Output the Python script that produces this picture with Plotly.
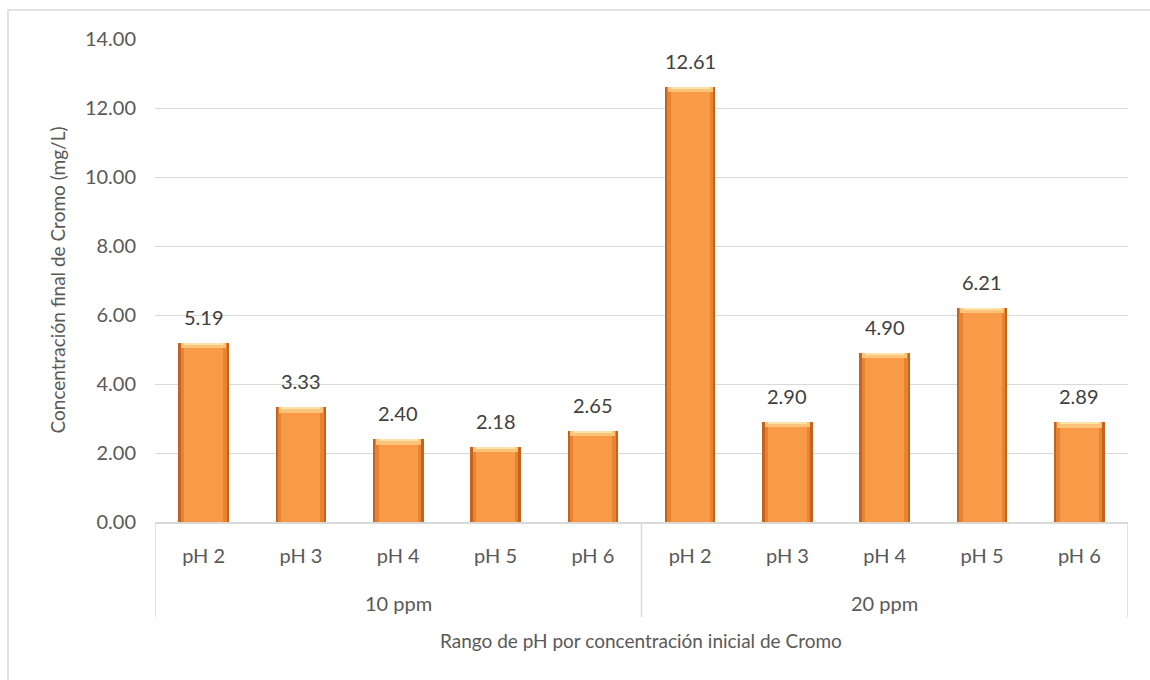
import plotly.graph_objects as go

# Data: final chromium concentration by pH, for each initial concentration
groups = ["10 ppm", "20 ppm"]
ph_labels = ["pH 2", "pH 3", "pH 4", "pH 5", "pH 6"]
conc_10ppm = [5.19, 3.33, 2.40, 2.18, 2.65]
conc_20ppm = [12.61, 2.90, 4.90, 6.21, 2.89]

values = conc_10ppm + conc_20ppm
tick_text = ph_labels * len(groups)
x_pos = list(range(len(values)))

FONT = "Lato"
TICK_COLOR = "#595959"
GRID = "#D9D9D9"

W, H = 1150, 680
L, R, T, B = 155, 22, 39, 158
plot_w = W - L - R
plot_h = H - T - B


def px_x(px):
    return (px - L) / plot_w


def px_y(py):
    return (H - B - py) / plot_h


fig = go.Figure()

# bevelled-looking bars: dark outer body, lighter inner face, pale top cap
fig.add_trace(go.Bar(x=x_pos, y=values, width=0.52,
                     marker=dict(color="#C4631F", line=dict(width=0)),
                     hoverinfo="skip", showlegend=False))
fig.add_trace(go.Bar(x=x_pos, y=values, width=0.47,
                     marker=dict(color="#E8842F", line=dict(width=0)),
                     hoverinfo="skip", showlegend=False))
fig.add_trace(go.Bar(x=x_pos, y=values, width=0.40,
                     marker=dict(color="#F99A48", line=dict(width=0)),
                     hovertemplate="%{y:.2f}<extra></extra>", showlegend=False))
cap_h = 0.16
fig.add_trace(go.Bar(x=x_pos, y=[cap_h] * len(values),
                     base=[v - cap_h for v in values], width=0.46,
                     marker=dict(color="#FBC47A", line=dict(width=0)),
                     hoverinfo="skip", showlegend=False))
top_h = 0.06
fig.add_trace(go.Bar(x=x_pos, y=[top_h] * len(values),
                     base=[v - top_h for v in values], width=0.40,
                     marker=dict(color="#FDE3A6", line=dict(width=0)),
                     hoverinfo="skip", showlegend=False))

annotations = []
# value labels above each bar
for xi, v in zip(x_pos, values):
    annotations.append(dict(x=xi, y=v, xref="x", yref="y", text=f"{v:.2f}",
                            showarrow=False, yshift=26, yanchor="middle",
                            font=dict(family=FONT, size=20, color="#404040")))

# group labels under the pH labels
n = len(ph_labels)
for gi, g in enumerate(groups):
    annotations.append(dict(x=gi * n + (n - 1) / 2, y=px_y(603), xref="x", yref="paper",
                            text=g, showarrow=False, yanchor="middle",
                            font=dict(family=FONT, size=20, color=TICK_COLOR)))

# axis titles
annotations.append(dict(x=px_x(641), y=px_y(640), xref="paper", yref="paper",
                        text="Rango de pH por concentración inicial de Cromo",
                        showarrow=False, yanchor="middle", xanchor="center",
                        font=dict(family=FONT, size=19, color=TICK_COLOR)))
annotations.append(dict(x=px_x(57), y=0.5, xref="paper", yref="paper",
                        text="Concentración final de Cromo (mg/L)", textangle=-90,
                        showarrow=False, xanchor="center", yanchor="middle",
                        font=dict(family=FONT, size=19, color=TICK_COLOR)))

shapes = []
# group dividers below the axis
for xb in [-0.5, n - 0.5, 2 * n - 0.5]:
    shapes.append(dict(type="line", xref="x", yref="paper", x0=xb, x1=xb,
                       y0=0, y1=px_y(617), line=dict(color=GRID, width=1.5)))
# chart frame
shapes.append(dict(type="rect", xref="paper", yref="paper",
                   x0=px_x(8), x1=px_x(1160), y0=px_y(690), y1=px_y(10),
                   line=dict(color=GRID, width=1.5), layer="below"))

fig.update_layout(
    width=W, height=H,
    margin=dict(l=L, r=R, t=T, b=B),
    paper_bgcolor="white", plot_bgcolor="white",
    barmode="overlay",
    bargap=0,
    showlegend=False,
    annotations=annotations,
    shapes=shapes,
    font=dict(family=FONT, size=20, color=TICK_COLOR),
)
fig.update_xaxes(range=[-0.5, len(values) - 0.5], tickvals=x_pos, ticktext=tick_text,
                 showgrid=False, zeroline=False, showline=True, linecolor=GRID,
                 linewidth=1.5, ticks="", ticklabelstandoff=15,
                 tickfont=dict(family=FONT, size=20, color=TICK_COLOR))
fig.update_yaxes(range=[0, 14], dtick=2, tickformat=".2f", showgrid=True,
                 gridcolor=GRID, gridwidth=1, zeroline=False, showline=False,
                 ticks="", ticklabelstandoff=18,
                 tickfont=dict(family=FONT, size=20, color=TICK_COLOR))

fig.write_html("out.html")
